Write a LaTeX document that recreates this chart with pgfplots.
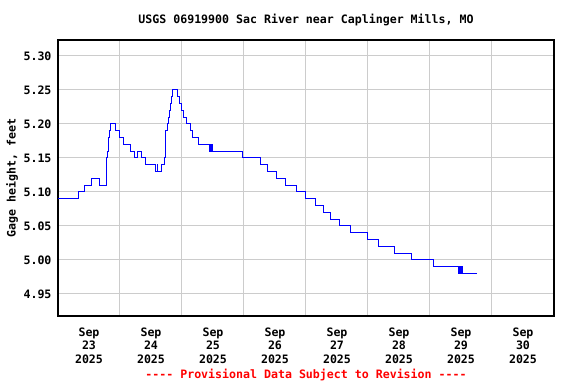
\documentclass[border=0pt]{standalone}
\usepackage{fontspec}
\setmainfont{DejaVu Sans Mono}
\usepackage{pgfplots}
\pgfplotsset{compat=1.18}
\newcommand{\cf}{\fontsize{11.6bp}{13.5bp}\selectfont\bfseries}
\begin{document}
\begin{tikzpicture}
\path[use as bounding box] (0,0) rectangle (576bp,384bp);
\begin{axis}[
  at={(58bp,68bp)}, anchor=south west,
  scale only axis, width=496bp, height=276bp,
  xmin=0, xmax=8, ymin=4.9176, ymax=5.3235,
  axis line style={black, line width=1.3bp},
  xtick={0.5,1.5,...,7.5},
  xticklabels={Sep\\23\\2025,Sep\\24\\2025,Sep\\25\\2025,Sep\\26\\2025,Sep\\27\\2025,Sep\\28\\2025,Sep\\29\\2025,Sep\\30\\2025},
  minor xtick={1,2,...,7},
  xminorgrids=true,
  ytick={4.95,5.00,5.05,5.10,5.15,5.20,5.25,5.30},
  yticklabels={4.95,5.00,5.05,5.10,5.15,5.20,5.25,5.30},
  ymajorgrids=true,
  major tick length=0pt, minor tick length=0pt,
  grid style={color=black!20, line width=1bp},
  minor grid style={color=black!20, line width=1bp},
  tick label style={font=\cf, text=black},
  xticklabel style={align=center, anchor=north, yshift=-8bp},
  yticklabel style={anchor=east, xshift=-3bp},
  title={USGS 06919900 Sac River near Caplinger Mills, MO},
  title style={font=\cf, at={(axis description cs:0.5,1)}, anchor=center, yshift=14bp},
  ylabel={Gage height, feet},
  ylabel style={font=\cf, at={(axis description cs:-0.0927,0.5)}, anchor=center, rotate=0},
  clip mode=individual,
]
\addplot[const plot, color=blue, line width=1bp] coordinates {
(0,5.09) (0.3306,5.10) (0.4274,5.11) (0.5435,5.12) (0.6726,5.11)
(0.7823,5.15) (0.7984,5.16) (0.8113,5.17) (0.8194,5.18) (0.8274,5.19)
(0.8419,5.20) (0.9242,5.19) (0.9887,5.18) (1.0645,5.17) (1.1613,5.16)
(1.2306,5.15) (1.2871,5.16) (1.3419,5.15) (1.4113,5.14) (1.5806,5.13)
(1.6016,5.14) (1.6129,5.13) (1.6726,5.14) (1.7258,5.15) (1.7339,5.17)
(1.7419,5.19) (1.7629,5.20) (1.7790,5.21) (1.7952,5.22) (1.8113,5.23)
(1.8226,5.24) (1.8468,5.25) (1.9242,5.24) (1.9565,5.23) (1.9919,5.22)
(2.0210,5.21) (2.0806,5.20) (2.1371,5.19) (2.1774,5.18) (2.2742,5.17)
(2.4435,5.16) (2.4597,5.17) (2.4677,5.16) (2.4790,5.17) (2.4871,5.16)
(2.9806,5.15) (3.2694,5.14) (3.3790,5.13) (3.5274,5.12) (3.6774,5.11)
(3.8500,5.10) (4.0000,5.09) (4.1613,5.08) (4.2790,5.07) (4.4032,5.06)
(4.5371,5.05) (4.7210,5.04) (4.9887,5.03) (5.1661,5.02) (5.4194,5.01)
(5.6968,5.00) (6.0532,4.99) (6.4597,4.98) (6.4726,4.99) (6.4887,4.98)
(6.5048,4.99) (6.5194,4.98) (6.7532,4.98)
};
\node[font=\cf, text=red, anchor=center] at (axis description cs:0.5,-0.2138) {-{}-{}-{}- Provisional Data Subject to Revision -{}-{}-{}-};
\end{axis}
\end{tikzpicture}
\end{document}
